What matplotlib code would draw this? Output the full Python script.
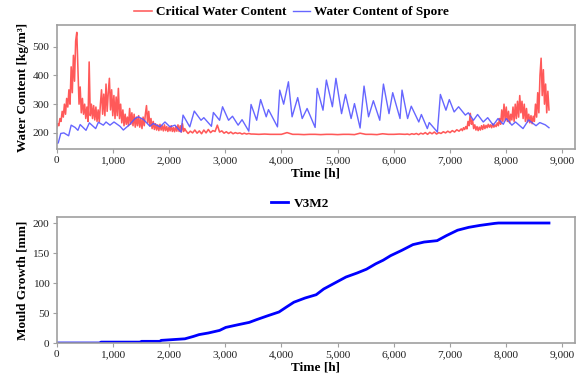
import numpy as np
import matplotlib
matplotlib.use('Agg')
import matplotlib.pyplot as plt
from matplotlib.ticker import StrMethodFormatter

plt.rcParams['font.family'] = ['Liberation Serif', 'DejaVu Serif']

# critical water content in segments (start hour, step, values)
crit_early = [215, 232, 225, 250, 240, 275, 255, 300, 265, 320,
              290, 350, 300, 430, 340, 470, 380, 520, 550, 420,
              300, 360, 270, 320, 265, 300, 250, 290, 240, 447,
              260, 300, 250, 295, 245, 290, 240, 280, 238, 300,
              350, 265, 335, 260, 370, 275, 340, 390, 280, 350,
              260, 330, 250, 325, 260, 355, 250, 300, 235, 280,
              225, 265, 230, 255, 225, 285, 230, 270, 225, 265,
              220, 255, 225, 260, 220, 250, 215, 255, 225, 265,
              295, 235, 275, 225, 250, 215, 240, 212, 232, 210,
              228, 208, 230, 210, 225, 207, 228, 208, 222, 205,
              220, 207, 225, 205, 218, 204, 222, 206, 228, 205,
              225, 203, 232, 205, 215]
crit_mid1 = [208, 198, 206, 200, 210, 199, 207, 197, 210, 200,
             212, 201, 208, 205, 227, 203, 207, 199, 204, 198,
             203, 197, 201, 198, 200, 196, 199, 196, 198, 196]
crit_mid2 = [196, 195, 196, 195, 195, 195, 201, 195, 195, 194,
             195, 195, 194, 195, 195, 194, 195, 195, 194, 199,
             195, 195, 194, 197, 195, 195, 196, 195]
crit_mid3 = [196, 194, 197, 195, 198, 194, 199, 196, 201, 195,
             202, 197, 203, 196, 201, 198, 204, 200, 206, 201,
             208, 203, 211, 206]
crit_late = [214, 208, 218, 212, 222, 214, 240, 225, 268, 230,
             245, 215, 228, 210, 222, 208, 220, 210, 225, 212,
             228, 215, 226, 218, 230, 220, 228, 218, 232, 220,
             228, 222, 235, 225, 250, 230, 280, 240, 300, 245,
             290, 240, 275, 235, 265, 245, 290, 240, 300, 250,
             310, 255, 330, 270, 310, 250, 300, 240, 285, 238,
             265, 235, 260, 232, 258, 240, 300, 255, 340, 270,
             400, 460, 330, 420, 300, 370, 270, 345, 280]
crit_segments = [(0, 20, crit_early), (2300, 40, crit_mid1), (3500, 100, crit_mid2),
                 (6240, 40, crit_mid3), (7200, 20, crit_late)]

# water content of spore (peaks and troughs)
spore_hours = [0, 30, 75, 130, 215, 260, 330, 380, 420, 524, 584, 696, 744, 832,
               880, 951, 1022, 1129, 1188, 1306, 1396, 1455, 1544, 1662, 1720, 1840,
               1929, 2018, 2107, 2190, 2215, 2250, 2370, 2450, 2570, 2620, 2755, 2790,
               2900, 2953, 3060, 3130, 3230, 3300, 3420, 3460, 3560, 3630, 3730, 3770,
               3930, 3970, 4040, 4125, 4190, 4290, 4370, 4457, 4600, 4636, 4740, 4800,
               4907, 4970, 5070, 5140, 5240, 5300, 5400, 5470, 5550, 5636, 5750, 5815,
               5914, 5980, 6110, 6146, 6245, 6310, 6444, 6490, 6596, 6630, 6775, 6828,
               6927, 6987, 7073, 7152, 7272, 7325, 7417, 7490, 7590, 7670, 7768, 7854,
               7947, 8000, 8100, 8165, 8298, 8397, 8530, 8596, 8695, 8760]
spore_values = [163, 165, 198, 200, 190, 227, 219, 209, 229, 209, 235, 215, 237, 227,
                238, 227, 238, 223, 210, 230, 250, 256, 247, 223, 233, 221,
                238, 221, 227, 208, 203, 262, 221, 276, 244, 253, 223, 271,
                244, 291, 244, 258, 227, 246, 206, 299, 244, 316, 256, 281,
                221, 349, 300, 378, 256, 323, 250, 285, 219, 355, 279, 384,
                291, 390, 267, 334, 250, 302, 217, 363, 256, 312, 244, 370,
                267, 340, 250, 349, 250, 293, 238, 264, 215, 236, 203, 334,
                279, 316, 273, 291, 262, 270, 244, 264, 238, 253, 227, 250,
                230, 250, 227, 238, 215, 245, 225, 236, 228, 218]

# mould growth
mould_hours = [0, 770, 790, 1490, 1510, 1840, 1860, 2040, 2283, 2435, 2535, 2700, 2900,
               3010, 3230, 3428, 3560, 3759, 3957, 4090, 4222, 4421, 4619, 4752, 4950,
               5149, 5347, 5513, 5678, 5810, 5943, 6141, 6340, 6539, 6770, 6936, 7134,
               7333, 7531, 7796, 7862, 8760]
mould_values = [0, 0, 1.5, 1.5, 2.8, 2.8, 4.4, 5.5, 7, 11, 14, 16.7, 21,
                26, 30.5, 34.4, 39, 45.5, 51.7, 60, 68, 75, 80.5, 90, 100,
                110, 116.7, 123, 132, 138, 145.6, 154.4, 164, 168.3, 170.6, 179, 188,
                192.8, 196, 199.4, 200, 200]

crit_hours = np.concatenate([s + st * np.arange(len(v)) for s, st, v in crit_segments])
crit_values = np.concatenate([v for _, _, v in crit_segments])

fig = plt.figure(figsize=(5.83, 3.83), dpi=100)
frame_col = '#a0a0a0'


def style(ax):
    for sp in ax.spines.values():
        sp.set_color(frame_col)
        sp.set_linewidth(1.2)
    ax.tick_params(direction='out', length=3, width=0.8, color=frame_col,
                   labelsize=8.2, pad=2, labelcolor='#222222')
    ax.xaxis.set_major_formatter(StrMethodFormatter('{x:,.0f}'))
    ax.set_xlim(0, 9220)
    ax.set_xticks(range(0, 9001, 1000))


ax1 = fig.add_axes([0.097, 0.611, 0.889, 0.324])
l1, = ax1.plot(crit_hours, crit_values, color='#ff3030', lw=1.15, alpha=0.8,
               label='Critical Water Content')
l2, = ax1.plot(spore_hours, spore_values, color='#5555ff', lw=1.0, alpha=0.9,
               label='Water Content of Spore')
ax1.set_ylim(144, 576)
ax1.set_yticks([200, 300, 400, 500])
style(ax1)
ax1.set_xlabel('Time [h]', fontsize=9.5, fontweight='bold', labelpad=2)
ax1.set_ylabel('Water Content [kg/m³]', fontsize=9.5, fontweight='bold', labelpad=3)
fig.legend(handles=[l1, l2], loc='center', bbox_to_anchor=(0.5, 0.968), ncol=2,
           frameon=False, handlelength=1.3, handletextpad=0.3, columnspacing=0.5,
           prop={'size': 9.5, 'weight': 'bold'})

ax2 = fig.add_axes([0.097, 0.1044, 0.889, 0.329])
l3, = ax2.plot(mould_hours, mould_values, color='#0000ff', lw=2.0, label='V3M2')
ax2.set_ylim(0, 210)
ax2.set_yticks(range(0, 201, 50))
style(ax2)
ax2.set_xlabel('Time [h]', fontsize=9.5, fontweight='bold', labelpad=2)
ax2.set_ylabel('Mould Growth [mm]', fontsize=9.5, fontweight='bold', labelpad=3)
fig.legend(handles=[l3], loc='center', bbox_to_anchor=(0.515, 0.468),
           frameon=False, handlelength=1.3, handletextpad=0.4,
           prop={'size': 9.5, 'weight': 'bold'})

fig.savefig('out.png', dpi=100)
